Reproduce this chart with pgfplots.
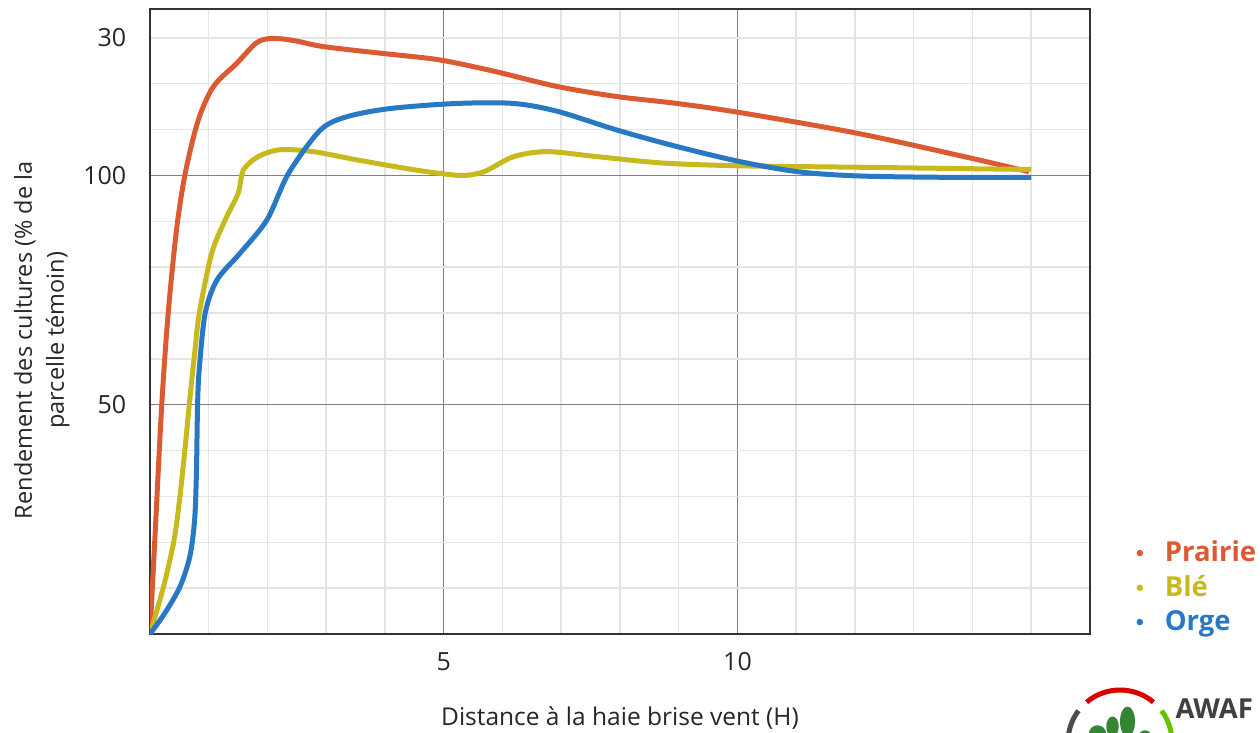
\documentclass[border=0pt]{standalone}
\usepackage{pgfplots}
\pgfplotsset{compat=1.18}
\usepackage{fontspec}
\setmainfont{Open Sans}

\definecolor{prairie}{HTML}{DC5A32}
\definecolor{ble}{HTML}{C8B91E}
\definecolor{orge}{HTML}{2878C3}
\definecolor{gridmaj}{HTML}{808080}
\definecolor{gridmin}{HTML}{E4E4E4}
\definecolor{cadre}{HTML}{333333}

\begin{document}
\begin{tikzpicture}
\useasboundingbox (-60pt,-39.2pt) rectangle (444pt,253.6pt);
\begin{axis}[
    at={(0,0)}, anchor=south west,
    scale only axis,
    width=376pt, height=250pt,
    xmin=0, xmax=16,
    ymin=0, ymax=136.3,
    xtick={5,10},
    minor xtick={1,...,15},
    ytick={50,100},
    minor ytick={10,20,...,130},
    extra y ticks={130},
    extra y tick labels={30},
    extra y tick style={grid=none},
    major tick length=0pt, minor tick length=0pt,
    grid=both,
    major grid style={color=gridmaj, line width=0.6pt},
    minor grid style={color=gridmin, line width=0.6pt},
    axis line style={color=cadre, line width=0.8pt},
    /pgf/number format/assume math mode=true,
    tick label style={font=\fontsize{10}{12}\selectfont, color=black!85},
    xticklabel style={yshift=-4pt},
    yticklabel style={xshift=-6pt},
    xlabel={Distance à la haie brise vent (H)},
    xlabel style={at={(axis description cs:0.5,-0.1344)}, anchor=center,
        font=\fontsize{9.8}{12.8}\selectfont, color=black!85},
    ylabel={Rendement des cultures (\% de la\\parcelle témoin)},
    ylabel style={at={(axis description cs:-0.115,0.47)}, anchor=center,
        align=center, font=\fontsize{9.4}{12.8}\selectfont, color=black!85},
    legend style={at={(rel axis cs:1.049,0.158)}, anchor=north west,
        draw=none, fill=none, font=\fontsize{11}{14}\bfseries\selectfont,
        row sep=0pt, inner sep=0pt, cells={anchor=west}},
    legend cell align=left,
]

\addplot[prairie, line width=2pt, smooth, tension=0.5,
    legend image code/.code={\fill[prairie, draw=none] (0,0) circle (1.3pt); \path[draw=none] (-1.3pt,0) -- (8pt,0);}]
coordinates {
(0,0) (0.08,20) (0.2,50) (0.31,70) (0.45,88) (0.6,100.5) (0.82,112)
(1.08,119.4) (1.48,124.5) (1.82,129) (2.1,129.9) (2.5,129.3) (2.95,128.1)
(3.97,126.6) (4.77,125.5) (5.22,124.5) (5.9,122.6) (6.93,119.4)
(7.95,117.2) (8.97,115.7) (10.05,113.7) (12.04,109.2) (14,103.7) (14.96,100.8)
};
\addlegendentry{\textcolor{prairie}{Prairie}}

\addplot[ble, line width=2pt, smooth, tension=0.5,
    legend image code/.code={\fill[ble, draw=none] (0,0) circle (1.3pt); \path[draw=none] (-1.3pt,0) -- (8pt,0);}]
coordinates {
(0,0) (0.23,10.3) (0.41,20.5) (0.51,30) (0.6,40.9) (0.67,50.2) (0.75,60)
(0.84,70) (1.05,83) (1.28,90.3) (1.5,96.1) (1.59,101.2) (1.84,104.1)
(2.21,105.6) (2.78,105.2) (3.52,103.4) (4.37,101.5) (4.9,100.5)
(5.35,100) (5.7,100.9) (6.19,104.1) (6.76,105.2) (7.61,104.1)
(8.74,102.7) (10.05,102.1) (12,101.8) (15,101.3)
};
\addlegendentry{\textcolor{ble}{Blé}}

\addplot[orge, line width=2pt, smooth, tension=0.5,
    legend image code/.code={\fill[orge, draw=none] (0,0) circle (1.3pt); \path[draw=none] (-1.3pt,0) -- (8pt,0);}]
coordinates {
(0,0) (0.25,4.5) (0.51,10.3) (0.68,17) (0.76,25) (0.79,35) (0.81,50)
(0.84,58) (0.94,70) (1.14,77.2) (1.53,83) (1.99,90.3) (2.36,100.5)
(2.9,109.9) (3.35,112.8) (4.09,114.6) (5.22,115.7) (6.19,115.7)
(6.93,114) (7.95,109.9) (8.97,106.3) (10.05,103) (11.04,100.8)
(12.04,99.9) (13.5,99.6) (15,99.6)
};
\addlegendentry{\textcolor{orge}{Orge}}
\end{axis}

% logo AWAF (coin inferieur droit)
\draw[color=red!85!black, line width=2pt] (388pt,-43.2pt) ++(130:20.8pt) arc (130:50:20.8pt);
\draw[color=black!70, line width=2pt] (388pt,-43.2pt) ++(200:20.8pt) arc (200:143:20.8pt);
\draw[color=green!60!black!60!yellow, line width=2pt] (388pt,-43.2pt) ++(37:20.8pt) arc (37:-10:20.8pt);
\fill[green!40!black!80] (379pt,-40pt) circle (3.5pt);
\fill[green!40!black!80] (385pt,-37pt) ellipse (2.5pt and 4pt);
\fill[green!40!black!80] (391pt,-35pt) ellipse (3pt and 6pt);
\fill[green!40!black!80] (398pt,-41pt) circle (2.5pt);
\node[anchor=base west, inner sep=0pt, text=black!75,
    font=\fontsize{11}{13}\bfseries\selectfont] at (410pt,-33.8pt) {AWAF};
\end{tikzpicture}
\end{document}
